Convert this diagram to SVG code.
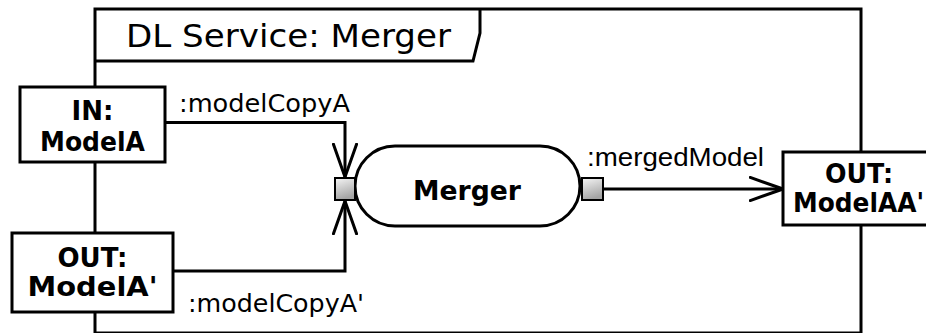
<svg xmlns="http://www.w3.org/2000/svg" width="926" height="333" viewBox="0 0 926 333">
  <style>
    .line { fill: none; stroke: #000; stroke-width: 3; }
    .box { fill: #fff; stroke: #000; stroke-width: 3; }
    .bold { font-family: "DejaVu Sans", Verdana, sans-serif; font-weight: bold; font-size: 26px; fill: #000; text-anchor: middle; }
    .label { font-family: "DejaVu Sans", Verdana, sans-serif; font-size: 25px; fill: #000; }
    .flow { font-family: "Liberation Sans", Arial, sans-serif; font-size: 26px; fill: #000; }
    .title { font-family: "DejaVu Sans", Verdana, sans-serif; font-size: 32px; fill: #000; }
  </style>
  <defs>
    <linearGradient id="pinFill" x1="0" y1="0" x2="0.3" y2="1">
      <stop offset="0" stop-color="#f6f6f6"/>
      <stop offset="1" stop-color="#a4a4a4"/>
    </linearGradient>
    <marker id="openArrow" viewBox="0 0 36 26" refX="34" refY="13" markerWidth="36" markerHeight="26" markerUnits="userSpaceOnUse" orient="auto">
      <path d="M0,1 L34,13 L0,25" fill="none" stroke="#000" stroke-width="3"/>
    </marker>
  </defs>

  <!-- activity frame with name tab -->
  <g id="frame">
    <rect x="95" y="9" width="766" height="324" class="line"/>
    <path d="M95,61 L473,61 L480,33 L480,9" class="line"/>
    <text x="126" y="47" class="title" textLength="325" lengthAdjust="spacingAndGlyphs">DL Service: Merger</text>
  </g>

  <!-- object flows -->
  <g id="connectors">
    <path d="M165,122.5 L345,122.5 L345,177" class="line" marker-end="url(#openArrow)"/>
    <path d="M173,271 L345,271 L345,201" class="line" marker-end="url(#openArrow)"/>
    <path d="M603,189 L783,189" class="line" marker-end="url(#openArrow)"/>
    <text x="179" y="112" class="label" textLength="171" lengthAdjust="spacingAndGlyphs">:modelCopyA</text>
    <text x="188" y="312" class="label" textLength="176" lengthAdjust="spacingAndGlyphs">:modelCopyA'</text>
    <text x="587" y="166" class="flow" textLength="177" lengthAdjust="spacingAndGlyphs">:mergedModel</text>
  </g>

  <!-- parameter nodes -->
  <g id="inModelA">
    <rect x="20" y="87" width="145" height="75" class="box"/>
    <text x="92.5" y="120" class="bold">IN:</text>
    <text x="92.5" y="151" class="bold" textLength="105" lengthAdjust="spacingAndGlyphs">ModelA</text>
  </g>
  <g id="outModelA2">
    <rect x="12" y="233" width="161" height="79" class="box"/>
    <text x="92.5" y="267" class="bold" textLength="70" lengthAdjust="spacingAndGlyphs">OUT:</text>
    <text x="92.5" y="296" class="bold" textLength="130" lengthAdjust="spacingAndGlyphs">ModelA'</text>
  </g>
  <g id="outModelAA">
    <rect x="783" y="152" width="170" height="73" class="box"/>
    <text x="859" y="183" class="bold" textLength="68" lengthAdjust="spacingAndGlyphs">OUT:</text>
    <text x="793" y="212" class="bold" style="text-anchor:start" textLength="131" lengthAdjust="spacingAndGlyphs">ModelAA'</text>
  </g>

  <!-- action with input / output pins -->
  <g id="merger">
    <rect x="355" y="146" width="225" height="80" rx="40" ry="40" class="box"/>
    <text x="467" y="200" class="bold" font-size="27" textLength="108" lengthAdjust="spacingAndGlyphs">Merger</text>
    <rect id="pinIn" x="335" y="178" width="20" height="22" fill="url(#pinFill)" stroke="#000" stroke-width="2"/>
    <rect id="pinOut" x="582" y="178" width="21" height="22" fill="url(#pinFill)" stroke="#000" stroke-width="2"/>
  </g>
</svg>
